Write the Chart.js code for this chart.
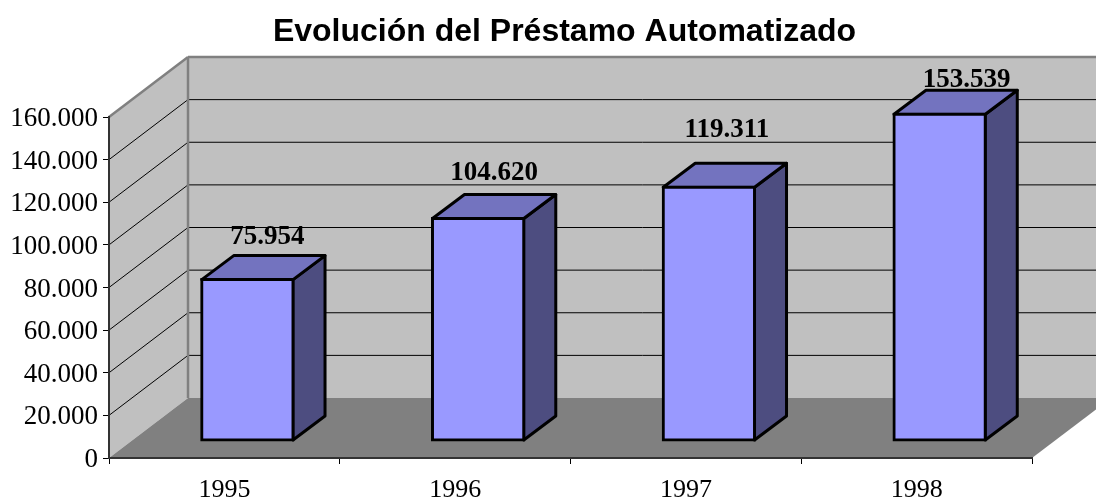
<!DOCTYPE html>
<html lang="es">
<head>
<meta charset="utf-8">
<title>Evolución del Préstamo Automatizado</title>
<style>
  html, body { margin: 0; padding: 0; background: #fff; overflow: hidden; }
  canvas { display: block; }
</style>
<script src="https://cdn.jsdelivr.net/npm/chart.js@4/dist/chart.umd.min.js"></script>
</head>
<body>
<canvas id="chart" width="1096" height="498"></canvas>
<script>
// Daten
const chartTitle = 'Evolución del Préstamo Automatizado';
const years = ['1995', '1996', '1997', '1998'];
const prestamos = [75954, 104620, 119311, 153539];
const yTicks = [0, 20000, 40000, 60000, 80000, 100000, 120000, 140000, 160000];

// 3D-Versatz in Pixeln
const wallOffset = { x: 79, y: -60 };
const barOffset = { x: 23, y: -17 };
const barDepth = { x: 32, y: -24 };
// Labels sitzen im Original von Hand verschoben
const labelShift = [{ x: 20, y: -42 }, { x: 16, y: -45 }, { x: 18, y: -57 }, { x: 27, y: -34 }];

const serif = '"Liberation Serif", "Times New Roman", serif';

function formatThousands(value) {
    return String(value).replace(/\B(?=(\d{3})+$)/g, '.');
}

function polygon(ctx, points, fill, stroke, width) {
    ctx.beginPath();
    points.forEach((p, i) => (i ? ctx.lineTo(p[0], p[1]) : ctx.moveTo(p[0], p[1])));
    ctx.closePath();
    ctx.fillStyle = fill;
    ctx.fill();
    if (stroke) {
        ctx.lineJoin = 'round';
        ctx.strokeStyle = stroke;
        ctx.lineWidth = width;
        ctx.stroke();
    }
}

function line(ctx, x1, y1, x2, y2, color, width) {
    ctx.beginPath();
    ctx.moveTo(x1, y1);
    ctx.lineTo(x2, y2);
    ctx.strokeStyle = color;
    ctx.lineWidth = width;
    ctx.stroke();
}

const box3d = {
    id: 'box3d',
    afterLayout(chart) {
        // Titel sitzt im Original etwas links der Plotmitte
        chart.titleBlock.left -= 6;
        chart.titleBlock.right -= 6;
    },
    // Wände und Boden
    beforeDraw(chart) {
        const { ctx, chartArea: a, scales } = chart;
        const dx = wallOffset.x, dy = wallOffset.y;
        // Y-Labels stehen im Original 2px tiefer
        scales.y.getLabelItems(a).forEach(item => { item.options.translation[1] = scales.y.getPixelForValue(Number(item.label.replace(/\./g, ''))) + 2; });
        ctx.save();
        polygon(ctx, [[a.left, a.bottom], [a.left, a.top], [a.left + dx, a.top + dy], [a.left + dx, a.bottom + dy]], '#C0C0C0');
        polygon(ctx, [[a.left + dx, a.top + dy], [a.right + dx, a.top + dy], [a.right + dx, a.bottom + dy], [a.left + dx, a.bottom + dy]], '#C0C0C0');
        polygon(ctx, [[a.left, a.bottom], [a.right, a.bottom], [a.right + dx, a.bottom + dy], [a.left + dx, a.bottom + dy]], '#808080');
        yTicks.forEach(v => {
            if (v === 0) return;
            const y = scales.y.getPixelForValue(v);
            if (v < scales.y.max) {
                line(ctx, a.left, y, a.left + dx, y + dy, '#000', 1);
                line(ctx, a.left + dx, y + dy, a.right + dx, y + dy, '#000', 1);
            }
        });
        line(ctx, a.left, a.top, a.left + dx, a.top + dy, '#808080', 2.5);
        line(ctx, a.left + dx, a.top + dy, a.right + dx, a.top + dy, '#808080', 2.5);
        line(ctx, a.left + dx, a.top + dy, a.left + dx, a.bottom + dy, '#808080', 2.5);
        ctx.restore();
    },
    // Seiten und Deckel, die Frontfläche zeichnet Chart.js
    beforeDatasetDraw(chart, args) {
        const { ctx } = chart;
        ctx.save();
        ctx.translate(barOffset.x, barOffset.y);
        args.meta.data.forEach(bar => {
            const { x, y, base, width } = bar.getProps(['x', 'y', 'base', 'width'], true);
            const l = x - width / 2 + 0.5, r = x + width / 2 - 0.5;
            const t = y + 0.5, b = base - 0.5;
            polygon(ctx, [[r, t], [r + barDepth.x, t + barDepth.y], [r + barDepth.x, b + barDepth.y], [r, b]], '#4D4D80', '#000', 3);
            polygon(ctx, [[l, t], [l + barDepth.x, t + barDepth.y], [r + barDepth.x, t + barDepth.y], [r, t]], '#7373BF', '#000', 3);
        });
    },
    afterDatasetDraw(chart) {
        chart.ctx.restore();
    },
    afterDatasetsDraw(chart) {
        const { ctx } = chart;
        const meta = chart.getDatasetMeta(0);
        ctx.save();
        ctx.font = 'bold 27px ' + serif;
        ctx.fillStyle = '#000';
        ctx.textAlign = 'center';
        ctx.textBaseline = 'middle';
        meta.data.forEach((bar, i) => {
            const x = bar.x + barOffset.x + labelShift[i].x;
            const y = bar.y + barOffset.y + labelShift[i].y;
            ctx.fillText(formatThousands(prestamos[i]), x, y);
        });
        ctx.restore();
    }
};

new Chart(document.getElementById('chart'), {
    type: 'bar',
    data: {
        labels: years,
        datasets: [{
            data: prestamos,
            backgroundColor: '#9999FF',
            borderColor: '#000',
            borderWidth: 3,
            inflateAmount: 1,
            borderSkipped: false,
            categoryPercentage: 1,
            barPercentage: 0.4,
            clip: false
        }]
    },
    options: {
        responsive: false,
        animation: false,
        layout: { padding: { left: 0, right: 64, top: 0, bottom: 0 } },
        plugins: {
            legend: { display: false },
            tooltip: { enabled: false },
            title: {
                display: true,
                text: chartTitle,
                fullSize: false,
                color: '#000',
                font: { family: '"Liberation Sans", Arial, sans-serif', size: 32, weight: 'bold', lineHeight: 1.2 },
                padding: { top: 13, bottom: 65.6 }
            }
        },
        scales: {
            x: {
                afterFit(scale) { scale.height = 40; },
                grid: { offset: true, drawOnChartArea: false, color: '#000', lineWidth: 1, tickLength: 6 },
                border: { color: '#333', width: 2 },
                ticks: {
                    color: '#000',
                    padding: 11,
                    maxRotation: 0,
                    font: { family: serif, size: 26 }
                }
            },
            y: {
                min: 0,
                max: 160000,
                afterFit(scale) { scale.width = 109; },
                afterBuildTicks(scale) { scale.ticks = yTicks.map(value => ({ value })); },
                grid: { drawOnChartArea: false, color: '#000', lineWidth: 1, tickLength: 6 },
                border: { color: '#333', width: 2 },
                ticks: {
                    color: '#000',
                    padding: 5,
                    font: { family: serif, size: 27 },
                    callback: value => formatThousands(value)
                }
            }
        }
    },
    plugins: [box3d]
});
</script>
</body>
</html>
